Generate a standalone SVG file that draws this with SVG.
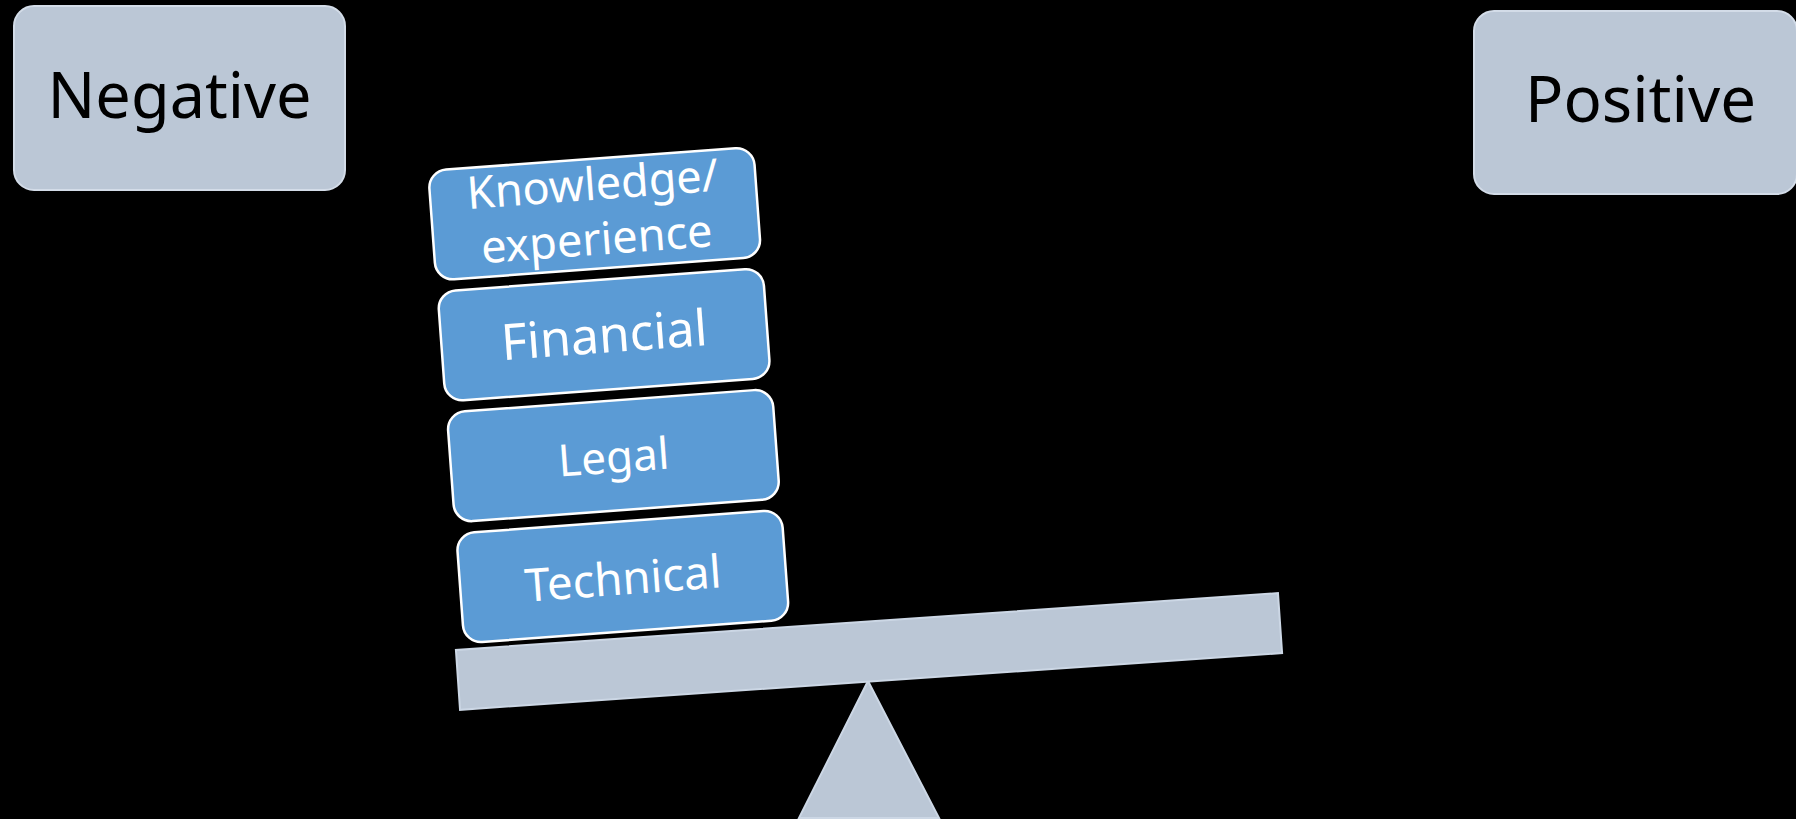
<svg xmlns="http://www.w3.org/2000/svg" width="1796" height="819" viewBox="0 0 1796 819">
  <style>
    .side { fill: #BBC7D6; stroke: #D3DCE8; stroke-width: 2; }
    .side-text { font-family: "Noto Sans", "Liberation Sans", sans-serif; font-size: 63px; fill: #000000; text-anchor: middle; }
    .block { fill: #5B9BD5; stroke: #FFFFFF; stroke-width: 2.5; }
    .block-text { font-family: "Noto Sans", "Liberation Sans", sans-serif; font-size: 45px; fill: #FFFFFF; text-anchor: middle; }
    .scale { fill: #BBC7D6; stroke: #CCD7E5; stroke-width: 2; }
  </style>
  <rect x="0" y="0" width="1796" height="819" fill="#000000"/>

  <g id="negative">
    <rect class="side" x="14" y="6" width="331" height="184" rx="20" ry="20"/>
    <text class="side-text" x="179.5" y="118">Negative</text>
  </g>

  <g id="positive">
    <rect class="side" x="1474" y="11" width="323" height="183" rx="20" ry="20"/>
    <text class="side-text" x="1640.5" y="122" style="font-size:63.5px">Positive</text>
  </g>

  <g id="fulcrum">
    <polygon class="scale" points="868,681 799,818 939,818"/>
  </g>

  <g id="beam" transform="translate(869 651.5) rotate(-3.95)">
    <rect class="scale" x="-412" y="-30" width="824" height="60"/>
  </g>

  <g id="block-knowledge" transform="translate(594.7 213.8) rotate(-4.2)">
    <rect class="block" x="-163" y="-55" width="326" height="110" rx="18" ry="18"/>
    <text class="block-text" x="0" y="-14">Knowledge/</text>
    <text class="block-text" x="0" y="41">experience</text>
  </g>

  <g id="block-financial" transform="translate(604.1 334.7) rotate(-4.2)">
    <rect class="block" x="-163" y="-55" width="326" height="110" rx="18" ry="18"/>
    <text class="block-text" x="0" y="18" style="font-size:50px">Financial</text>
  </g>

  <g id="block-legal" transform="translate(613.4 455.6) rotate(-4.2)">
    <rect class="block" x="-163" y="-55" width="326" height="110" rx="18" ry="18"/>
    <text class="block-text" x="0" y="17" style="font-size:44px">Legal</text>
  </g>

  <g id="block-technical" transform="translate(622.8 576.5) rotate(-4.2)">
    <rect class="block" x="-163" y="-55" width="326" height="110" rx="18" ry="18"/>
    <text class="block-text" x="0" y="18" style="font-size:45.5px">Technical</text>
  </g>
</svg>
